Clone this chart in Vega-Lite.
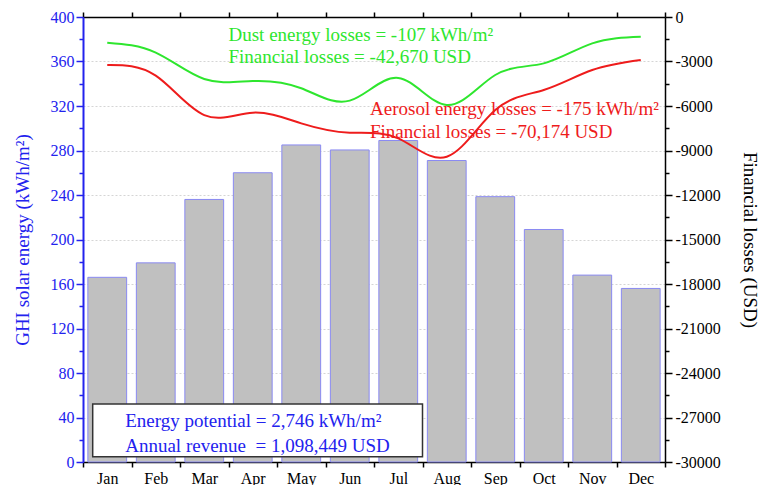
{
  "$schema": "https://vega.github.io/schema/vega-lite/v6.json",
  "width": 582,
  "height": 445,
  "autosize": {"type": "none"},
  "padding": {"left": 83, "top": 17, "right": 96, "bottom": 23},
  "background": "white",
  "config": {
    "view": {"stroke": null},
    "font": "Liberation Serif",
    "axis": {"labelFont": "Liberation Serif", "titleFont": "Liberation Serif", "titleFontWeight": "normal"}
  },
  "datasets": {
    "ghi": [
      {"month": "Jan", "ghi": 166}, {"month": "Feb", "ghi": 179}, {"month": "Mar", "ghi": 236},
      {"month": "Apr", "ghi": 260}, {"month": "May", "ghi": 285}, {"month": "Jun", "ghi": 280.5},
      {"month": "Jul", "ghi": 289}, {"month": "Aug", "ghi": 271}, {"month": "Sep", "ghi": 238.5},
      {"month": "Oct", "ghi": 209}, {"month": "Nov", "ghi": 168}, {"month": "Dec", "ghi": 156}
    ],
    "loss": [
      {"month": "Jan", "series": "Dust", "loss": -1733}, {"month": "Feb", "series": "Dust", "loss": -2400},
      {"month": "Mar", "series": "Dust", "loss": -4180}, {"month": "Apr", "series": "Dust", "loss": -4315},
      {"month": "May", "series": "Dust", "loss": -4800}, {"month": "Jun", "series": "Dust", "loss": -5640},
      {"month": "Jul", "series": "Dust", "loss": -4110}, {"month": "Aug", "series": "Dust", "loss": -5935},
      {"month": "Sep", "series": "Dust", "loss": -3910}, {"month": "Oct", "series": "Dust", "loss": -3125},
      {"month": "Nov", "series": "Dust", "loss": -1775}, {"month": "Dec", "series": "Dust", "loss": -1325},
      {"month": "Jan", "series": "Aerosol", "loss": -3236}, {"month": "Feb", "series": "Aerosol", "loss": -3950},
      {"month": "Mar", "series": "Aerosol", "loss": -6610}, {"month": "Apr", "series": "Aerosol", "loss": -6450},
      {"month": "May", "series": "Aerosol", "loss": -7170}, {"month": "Jun", "series": "Aerosol", "loss": -7800},
      {"month": "Jul", "series": "Aerosol", "loss": -8180}, {"month": "Aug", "series": "Aerosol", "loss": -9420},
      {"month": "Sep", "series": "Aerosol", "loss": -6270}, {"month": "Oct", "series": "Aerosol", "loss": -4920},
      {"month": "Nov", "series": "Aerosol", "loss": -3575}, {"month": "Dec", "series": "Aerosol", "loss": -2900}
    ],
    "box": [{"a": "Jan", "b": "Jul", "y1": 4.8, "y2": 52.1}],
    "greenText": [
      {"month": "Apr", "v": 378.7, "t": "Dust energy losses = -107 kWh/m²"},
      {"month": "Apr", "v": 358.4, "t": "Financial losses = -42,670 USD"}
    ],
    "redText": [
      {"month": "Jul", "v": 311.9, "t": "Aerosol energy losses = -175 kWh/m²"},
      {"month": "Jul", "v": 291, "t": "Financial losses = -70,174 USD"}
    ],
    "blueText": [
      {"month": "Jan", "v": 31.2, "t": "Energy potential = 2,746 kWh/m²"},
      {"month": "Jan", "v": 9.0, "t": "Annual revenue\u00a0 = 1,098,449 USD"}
    ]
  },
  "resolve": {"scale": {"y": "independent"}, "axis": {"x": "independent"}},
  "layer": [
    {
      "data": {"name": "ghi"},
      "mark": {"type": "bar", "width": {"band": 0.8}, "fill": "#c0c0c0", "stroke": "#8a8af2", "strokeWidth": 1},
      "encoding": {
        "x": {
          "field": "month", "type": "ordinal", "sort": null,
          "scale": {"type": "band", "domain": ["Jan","Feb","Mar","Apr","May","Jun","Jul","Aug","Sep","Oct","Nov","Dec"], "paddingInner": 0, "paddingOuter": 0},
          "axis": {"orient": "bottom", "title": null, "labelAngle": 0, "tickBand": "extent", "tickSize": 5, "tickColor": "black", "domainColor": "black", "domainWidth": 1.5, "tickWidth": 1.5, "labelColor": "black", "labelFontSize": 16, "labelPadding": 3, "grid": false}
        },
        "y": {
          "field": "ghi", "type": "quantitative",
          "scale": {"domain": [0, 400], "nice": false, "zero": true},
          "axis": {
            "orient": "left",
            "title": "GHI solar energy (kWh/m²)",
            "titleColor": "#2222ee", "titleFontSize": 19, "titlePadding": 18,
            "values": [0,20,40,60,80,100,120,140,160,180,200,220,240,260,280,300,320,340,360,380,400],
            "labelExpr": "datum.value % 40 === 0 ? datum.label : ''",
            "labelColor": "#2222ee", "labelFontSize": 16, "labelPadding": 2,
            "domainColor": "#2222ee", "domainWidth": 2,
            "tickColor": "#2222ee", "tickWidth": 1.5,
            "tickSize": {"condition": {"test": "datum.value % 40 === 0", "value": 7}, "value": 4},
            "grid": true, "gridColor": "#d5d5d5", "gridDash": [2, 2], "gridWidth": 1,
            "gridOpacity": {"condition": {"test": "datum.value % 40 === 0 && datum.value > 0 && datum.value < 400", "value": 1}, "value": 0}
          }
        }
      }
    },
    {
      "data": {"name": "box"},
      "mark": {"type": "rect", "fill": "white", "stroke": "#333333", "strokeWidth": 1.5},
      "encoding": {
        "x": {"field": "a", "type": "ordinal", "bandPosition": 0.2, "axis": null},
        "x2": {"field": "b", "bandPosition": 1},
        "y": {"field": "y1", "type": "quantitative", "scale": {"domain": [0, 400], "nice": false}, "axis": null},
        "y2": {"field": "y2"}
      }
    },
    {
      "data": {"name": "greenText"},
      "mark": {"type": "text", "align": "left", "baseline": "alphabetic", "font": "Liberation Serif", "fontSize": 19, "color": "#2ee62e"},
      "encoding": {
        "x": {"field": "month", "type": "ordinal", "bandPosition": 0, "axis": null},
        "y": {"field": "v", "type": "quantitative", "scale": {"domain": [0, 400], "nice": false}, "axis": null},
        "text": {"field": "t"}
      }
    },
    {
      "data": {"name": "redText"},
      "mark": {"type": "text", "align": "left", "baseline": "alphabetic", "font": "Liberation Serif", "fontSize": 19, "color": "#ee1c1c", "dx": -4},
      "encoding": {
        "x": {"field": "month", "type": "ordinal", "bandPosition": 0, "axis": null},
        "y": {"field": "v", "type": "quantitative", "scale": {"domain": [0, 400], "nice": false}, "axis": null},
        "text": {"field": "t"}
      }
    },
    {
      "data": {"name": "blueText"},
      "mark": {"type": "text", "align": "left", "baseline": "alphabetic", "font": "Liberation Serif", "fontSize": 19, "color": "#2222ee"},
      "encoding": {
        "x": {"field": "month", "type": "ordinal", "bandPosition": 0.87, "axis": null},
        "y": {"field": "v", "type": "quantitative", "scale": {"domain": [0, 400], "nice": false}, "axis": null},
        "text": {"field": "t"}
      }
    },
    {
      "data": {"name": "loss"},
      "mark": {"type": "line", "interpolate": "natural", "strokeWidth": 2},
      "encoding": {
        "x": {
          "field": "month", "type": "ordinal", "sort": null,
          "scale": {"type": "band", "domain": ["Jan","Feb","Mar","Apr","May","Jun","Jul","Aug","Sep","Oct","Nov","Dec"], "paddingInner": 0, "paddingOuter": 0},
          "axis": {"orient": "top", "title": null, "labels": false, "tickBand": "extent", "tickSize": 5, "tickColor": "black", "tickWidth": 1.5, "domainColor": "black", "domainWidth": 1.5, "grid": false}
        },
        "y": {
          "field": "loss", "type": "quantitative",
          "scale": {"domain": [-30000, 0], "nice": false, "zero": false},
          "axis": {
            "orient": "right",
            "title": "Financial losses (USD)",
            "titleColor": "black", "titleFontSize": 19, "titlePadding": 19,
            "values": [-30000,-28500,-27000,-25500,-24000,-22500,-21000,-19500,-18000,-16500,-15000,-13500,-12000,-10500,-9000,-7500,-6000,-4500,-3000,-1500,0],
            "labelExpr": "datum.value % 3000 === 0 ? (datum.value < 0 ? '-' + (-datum.value) : '0') : ''",
            "labelColor": "black", "labelFontSize": 16, "labelPadding": 3,
            "domainColor": "black", "domainWidth": 1.5,
            "tickColor": "black", "tickWidth": 1.5,
            "tickSize": {"condition": {"test": "datum.value % 3000 === 0", "value": 7}, "value": 4},
            "grid": false
          }
        },
        "color": {
          "field": "series", "type": "nominal",
          "scale": {"domain": ["Dust", "Aerosol"], "range": ["#2ee62e", "#ee1c1c"]},
          "legend": null
        }
      }
    }
  ]
}
